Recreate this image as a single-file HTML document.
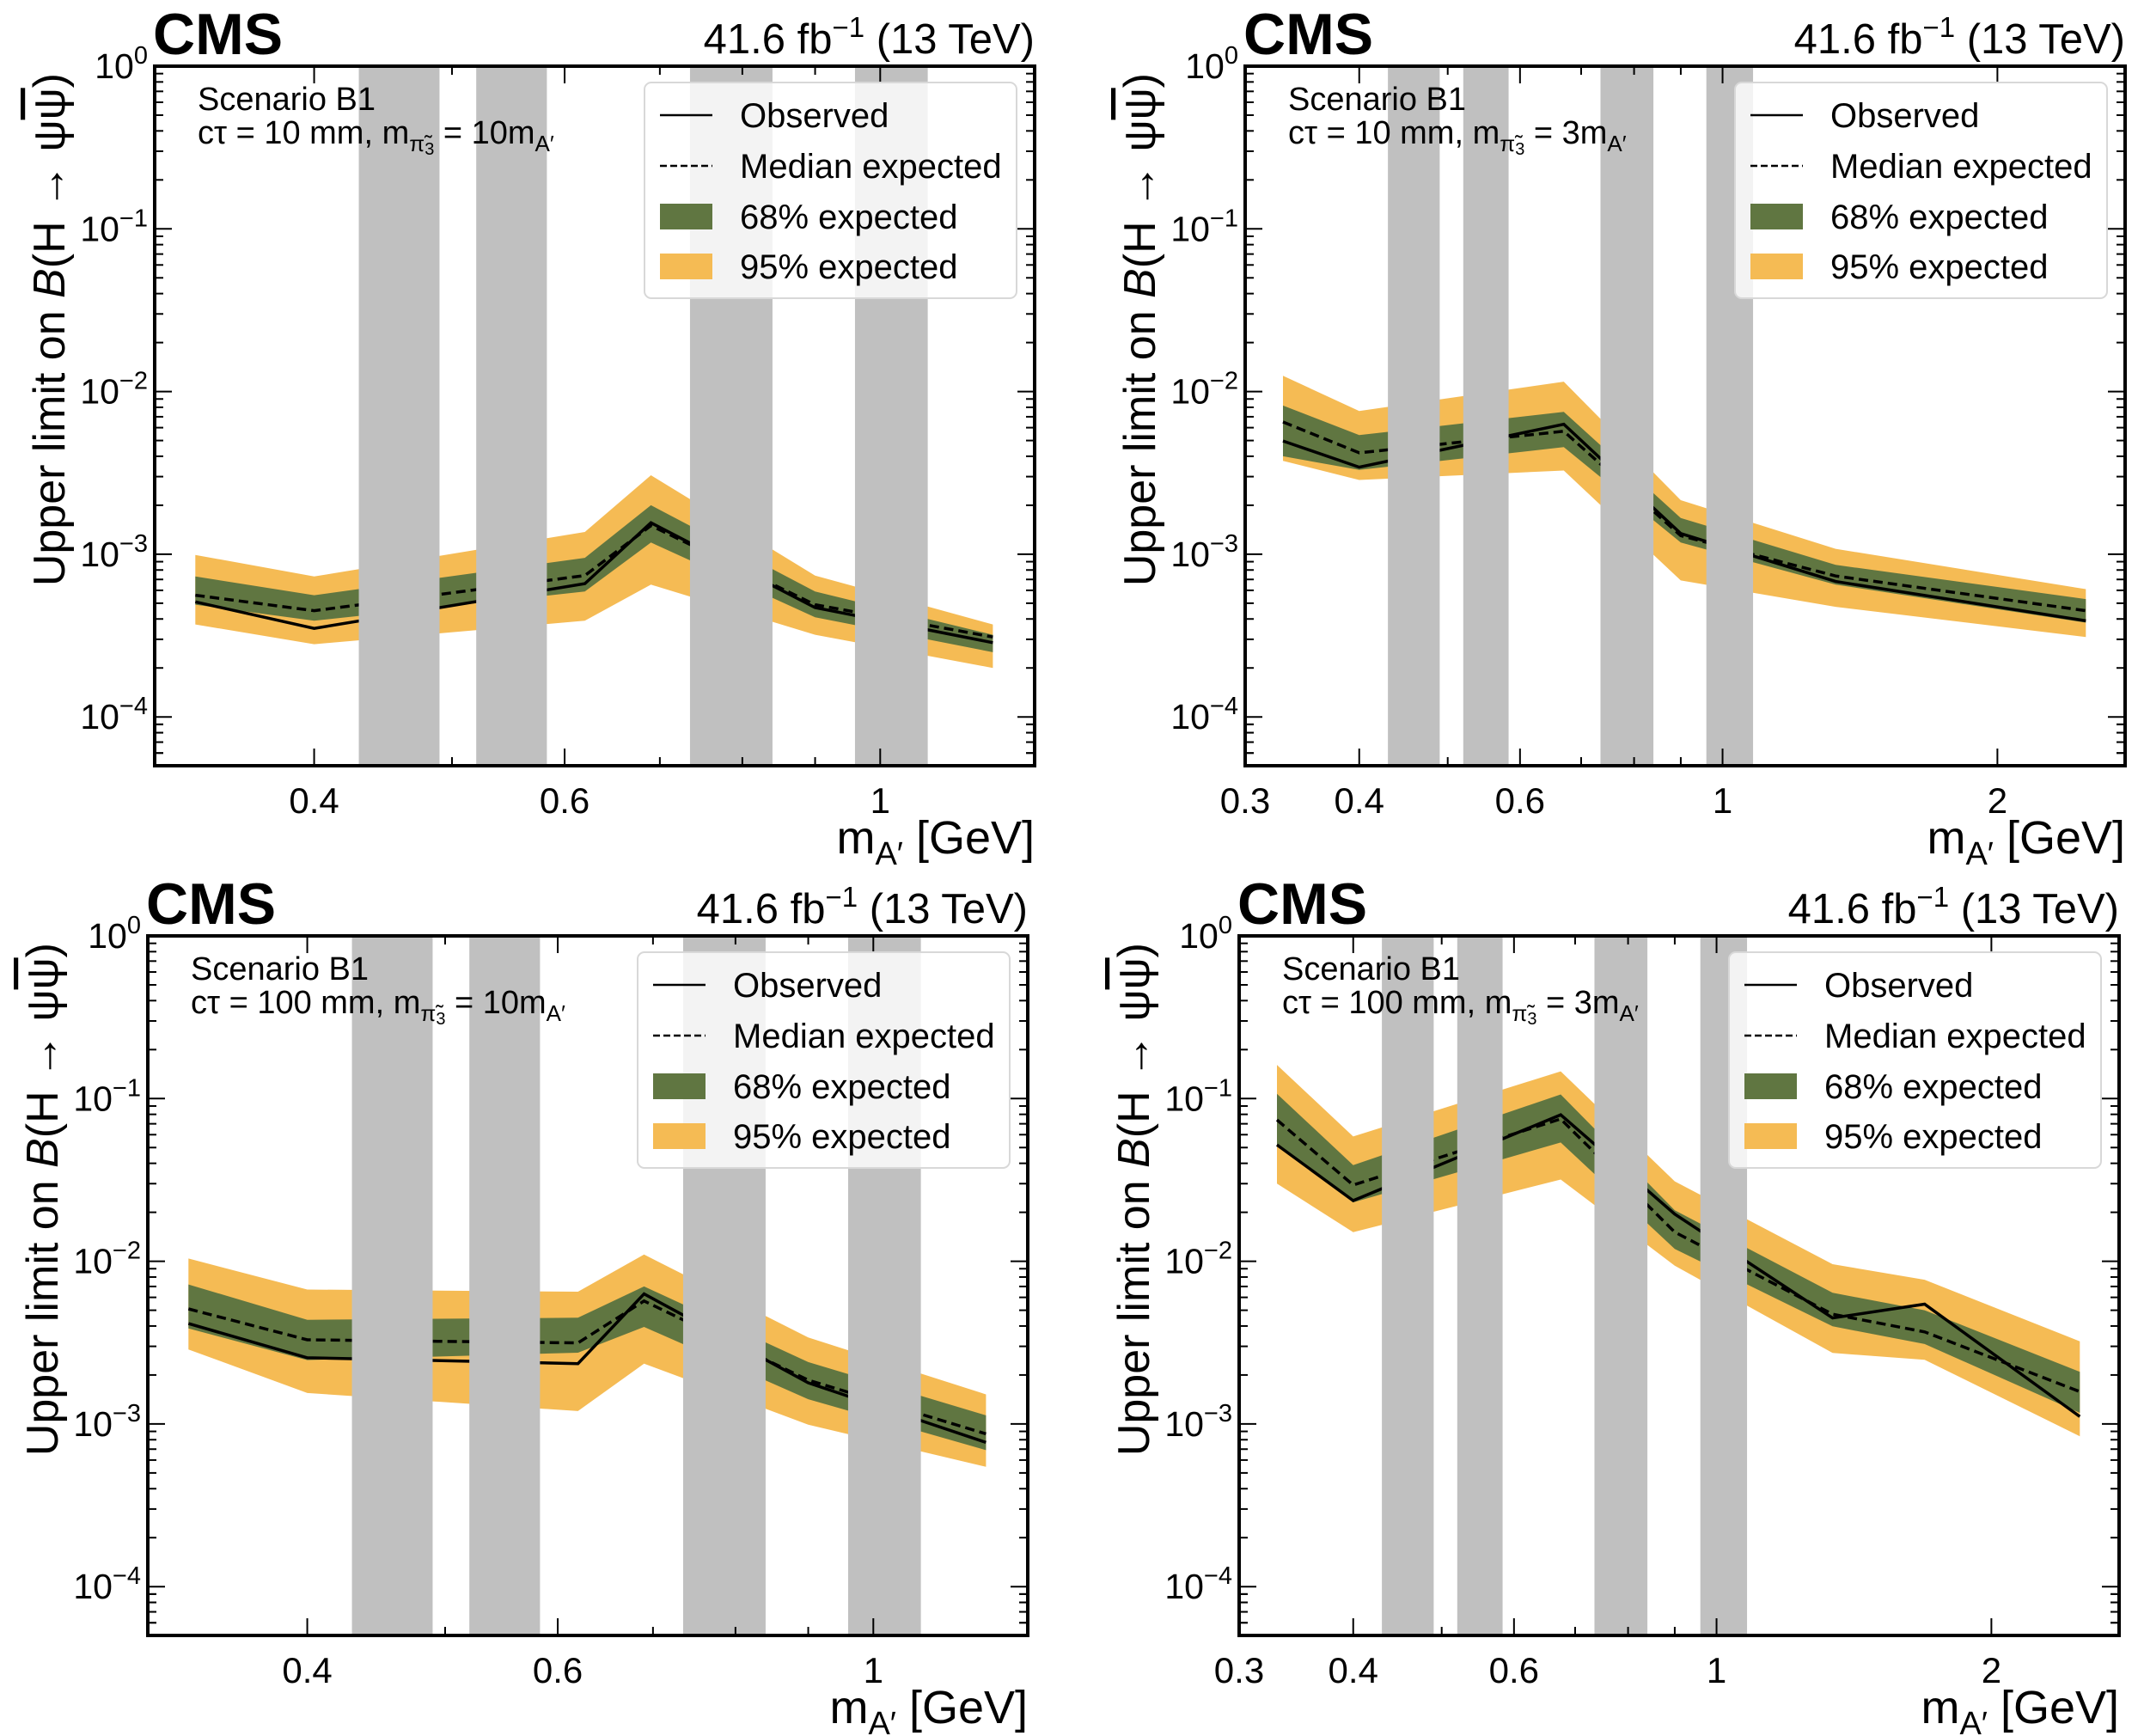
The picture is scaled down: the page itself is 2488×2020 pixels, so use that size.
<!DOCTYPE html>
<html><head><meta charset="utf-8"><style>
html,body{margin:0;padding:0;background:#fff}
svg{display:block;font-family:"Liberation Sans","DejaVu Sans",sans-serif}
</style></head><body>
<svg id="fig" xmlns="http://www.w3.org/2000/svg" width="2488" height="2020" viewBox="0 0 2488 2020"></svg>
<script>
// veto (gray) mass windows
const vetoLo = [0.43, 0.52, 0.735, 0.96];
const vetoHi = [0.49, 0.583, 0.84, 1.08];
// Panel TL: ctau 10 mm, 10mA
const tlMass = [0.33, 0.40, 0.62, 0.69, 0.90, 1.20];
const tlObs  = [5.1e-4, 3.5e-4, 6.6e-4, 1.56e-3, 4.7e-4, 2.86e-4];
const tlExp  = [5.6e-4, 4.5e-4, 7.4e-4, 1.5e-3, 4.9e-4, 3.1e-4];
const tlLo68 = [4.9e-4, 3.9e-4, 5.9e-4, 1.18e-3, 4.1e-4, 2.5e-4];
const tlHi68 = [7.3e-4, 5.6e-4, 9.5e-4, 2.0e-3, 5.9e-4, 3.2e-4];
const tlLo95 = [3.7e-4, 2.8e-4, 3.9e-4, 6.5e-4, 3.2e-4, 2.0e-4];
const tlHi95 = [9.9e-4, 7.3e-4, 1.37e-3, 3.06e-3, 7.4e-4, 3.7e-4];
// Panel TR: ctau 10 mm, 3mA
const trMass = [0.33, 0.40, 0.67, 0.90, 1.33, 2.5];
const trObs  = [4.97e-3, 3.43e-3, 6.3e-3, 1.34e-3, 6.8e-4, 3.9e-4];
const trExp  = [6.5e-3, 4.2e-3, 5.7e-3, 1.3e-3, 7.35e-4, 4.5e-4];
const trLo68 = [4.0e-3, 3.3e-3, 4.55e-3, 1.18e-3, 6.5e-4, 3.8e-4];
const trHi68 = [8.2e-3, 5.4e-3, 7.5e-3, 1.67e-3, 8.6e-4, 5.3e-4];
const trLo95 = [3.75e-3, 2.86e-3, 3.27e-3, 6.9e-4, 4.75e-4, 3.1e-4];
const trHi95 = [1.25e-2, 7.6e-3, 1.15e-2, 2.15e-3, 1.08e-3, 6.1e-4];
// Panel BL: ctau 100 mm, 10mA
const blMass = [0.33, 0.40, 0.62, 0.69, 0.90, 1.20];
const blObs  = [4.14e-3, 2.55e-3, 2.35e-3, 6.3e-3, 1.79e-3, 7.7e-4];
const blExp  = [5.1e-3, 3.29e-3, 3.15e-3, 5.7e-3, 1.86e-3, 8.7e-4];
const blLo68 = [3.87e-3, 2.47e-3, 2.74e-3, 3.95e-3, 1.42e-3, 6.9e-4];
const blHi68 = [7.2e-3, 4.37e-3, 4.5e-3, 7.0e-3, 2.4e-3, 1.13e-3];
const blLo95 = [2.87e-3, 1.55e-3, 1.2e-3, 2.35e-3, 9.9e-4, 5.45e-4];
const blHi95 = [1.04e-2, 6.7e-3, 6.5e-3, 1.1e-2, 3.4e-3, 1.52e-3];
// Panel BR: ctau 100 mm, 3mA
const brMass = [0.33, 0.40, 0.675, 0.90, 1.34, 1.69, 2.5];
const brObs  = [5.2e-2, 2.36e-2, 7.95e-2, 1.95e-2, 4.48e-3, 5.45e-3, 1.11e-3];
const brExp  = [7.4e-2, 2.94e-2, 7.5e-2, 1.51e-2, 4.73e-3, 3.68e-3, 1.58e-3];
const brLo68 = [5.1e-2, 2.3e-2, 5.37e-2, 1.19e-2, 3.98e-3, 3.1e-3, 1.17e-3];
const brHi68 = [1.07e-1, 3.9e-2, 1.06e-1, 2.06e-2, 6.4e-3, 5.0e-3, 2.09e-3];
const brLo95 = [3.0e-2, 1.51e-2, 3.18e-2, 9.4e-3, 2.73e-3, 2.48e-3, 8.4e-4];
const brHi95 = [1.61e-1, 5.85e-2, 1.47e-1, 3.1e-2, 9.6e-3, 7.7e-3, 3.22e-3];
// axis tick values
const yMajorExp = [0, -1, -2, -3, -4];
const xMajorNarrow = [0.4, 0.6, 1];
const xMajorNarrowLbl = ["0.4", "0.6", "1"];
const xMinorNarrow = [0.5, 0.7, 0.8, 0.9];
const xMajorWide = [0.3, 0.4, 0.6, 1, 2];
const xMajorWideLbl = ["0.3", "0.4", "0.6", "1", "2"];
const xMinorWide = [0.5, 0.7, 0.8, 0.9];
const legendLabels = ["Observed", "Median expected", "68% expected", "95% expected"];

const NS = "http://www.w3.org/2000/svg";
const svg = document.getElementById('fig');
function mk(tag, attrs, parent) {
  const e = document.createElementNS(NS, tag);
  for (const k in attrs) e.setAttribute(k, attrs[k]);
  (parent || svg).appendChild(e);
  return e;
}
const W = 1024, H = 814;
const YMIN = -4.30, YMAX = 0;

function drawPanel(p) {
  const g = mk('g', {});
  
  
  const L = p.L, T = p.T;
  const lx0 = Math.log10(p.xmin), lx1 = Math.log10(p.xmax);
  const X = v => L + (Math.log10(v) - lx0) / (lx1 - lx0) * W;
  const Y = v => T + (YMAX - Math.log10(v)) / (YMAX - YMIN) * H;
  const cid = 'clip-' + p.name;
  const cp = mk('clipPath', {id: cid}, g);
  mk('rect', {x: L, y: T, width: W, height: H}, cp);
  const plot = mk('g', {'clip-path': 'url(#' + cid + ')'}, g);
  function band(lo, hi, color, nm) {
    let pts = [];
    for (let i = 0; i < p.mass.length; i++) pts.push(X(p.mass[i]).toFixed(1) + ',' + Y(hi[i]).toFixed(1));
    for (let i = p.mass.length - 1; i >= 0; i--) pts.push(X(p.mass[i]).toFixed(1) + ',' + Y(lo[i]).toFixed(1));
    const e = mk('polygon', {points: pts.join(' '), fill: color}, plot);
    
    
  }
  band(p.lo95, p.hi95, '#F5BB54', 'band-95');
  band(p.lo68, p.hi68, '#607641', 'band-68');
  function line(vals, dash, nm) {
    const pts = p.mass.map((m, i) => X(m).toFixed(1) + ',' + Y(vals[i]).toFixed(1)).join(' ');
    const e = mk('polyline', {points: pts, fill: 'none', stroke: '#000', 'stroke-width': 3.5, 'stroke-dasharray': dash}, plot);
    
    
  }
  line(p.exp, '11,6', 'expected-line');
  line(p.obs, 'none', 'observed-line');
  for (let i = 0; i < vetoLo.length; i++) {
    const e = mk('rect', {x: X(vetoLo[i]), y: T, width: X(vetoHi[i]) - X(vetoLo[i]), height: H, fill: '#C0C0C0'}, plot);
    
    
  }
  // ticks
  const tk = mk('g', {stroke: '#000', 'stroke-width': 2}, g);
  for (const ex of yMajorExp) {
    for (let d = 1; d <= 9; d++) {
      const v = d * Math.pow(10, ex - 1);
      const ly = Math.log10(v);
      if (ly < YMIN || ly > YMAX) continue;
      const y = Y(v), len = d === 1 ? 20 : 10;
      mk('line', {x1: L, x2: L + len, y1: y, y2: y}, tk);
      mk('line', {x1: L + W, x2: L + W - len, y1: y, y2: y}, tk);
    }
  }
  for (let d = 1; d <= 9; d++) {
    const v = d * 1e-5; if (Math.log10(v) < YMIN) continue;
    const y = Y(v);
    mk('line', {x1: L, x2: L + 10, y1: y, y2: y}, tk);
    mk('line', {x1: L + W, x2: L + W - 10, y1: y, y2: y}, tk);
  }
  p.xmaj.forEach((v, i) => {
    const x = X(v);
    mk('line', {x1: x, x2: x, y1: T + H, y2: T + H - 20}, tk);
    mk('line', {x1: x, x2: x, y1: T, y2: T + 20}, tk);
    const t = mk('text', {x: x, y: T + H + 55, 'font-size': 42, 'text-anchor': 'middle'}, g);
    t.textContent = p.xlbl[i];
    
    
  });
  p.xmin_.forEach(v => {
    const x = X(v);
    mk('line', {x1: x, x2: x, y1: T + H, y2: T + H - 10}, tk);
    mk('line', {x1: x, x2: x, y1: T, y2: T + 10}, tk);
  });
  yMajorExp.forEach(ex => {
    const y = Y(Math.pow(10, ex));
    const t = mk('text', {x: L - 8, y: y + 14, 'font-size': 41, 'text-anchor': 'end'}, g);
    
    
    const a = mk('tspan', {}, t); a.textContent = '10';
    const b = mk('tspan', {dy: -17, 'font-size': 29}, t); b.textContent = ex === 0 ? '0' : '\u2212' + (-ex);
  });
  // frame
  const fr = mk('rect', {x: L, y: T, width: W, height: H, fill: 'none', stroke: '#000', 'stroke-width': 4}, g);
  
  
  // legend
  const lg = mk('g', {}, g);
  
  
  mk('rect', {x: L + 570, y: T + 19, width: 433, height: 251, rx: 8, fill: '#fff', 'fill-opacity': 0.8, stroke: '#d8d8d8', 'stroke-width': 2}, lg);
  const rows = [T + 57, T + 116, T + 175, T + 233];
  mk('line', {x1: L + 588, x2: L + 649, y1: rows[0], y2: rows[0], stroke: '#000', 'stroke-width': 2.5}, lg);
  mk('line', {x1: L + 588, x2: L + 649, y1: rows[1], y2: rows[1], stroke: '#000', 'stroke-width': 2.5, 'stroke-dasharray': '8,4'}, lg);
  mk('rect', {x: L + 588, y: rows[2] - 15, width: 61, height: 30, fill: '#607641'}, lg);
  mk('rect', {x: L + 588, y: rows[3] - 15, width: 61, height: 30, fill: '#F5BB54'}, lg);
  legendLabels.forEach((s, i) => {
    const t = mk('text', {x: L + 681, y: rows[i] + 14, 'font-size': 40}, lg);
    t.textContent = s;
    
    
  });
  // texts
  const cms = mk('text', {x: L - 2, y: T - 14, 'font-size': 68, 'font-weight': 'bold'}, g);
  cms.textContent = 'CMS';
  
  
  const lumi = mk('text', {x: L + W, y: T - 15, 'font-size': 49, 'text-anchor': 'end'}, g);
  
  
  mk('tspan', {}, lumi).textContent = '41.6 fb';
  mk('tspan', {dy: -19, 'font-size': 33}, lumi).textContent = '\u22121';
  mk('tspan', {dy: 19}, lumi).textContent = ' (13 TeV)';
  const sc = mk('text', {x: L + 50, y: T + 51, 'font-size': 38}, g);
  sc.textContent = 'Scenario B1';
  
  
  const ct = mk('text', {x: L + 50, y: T + 90, 'font-size': 38}, g);
  
  
  mk('tspan', {}, ct).textContent = 'c\u03c4 = ' + p.ctau + ' mm, m';
  mk('tspan', {dy: 9, 'font-size': 26}, ct).textContent = '\u03c0\u0303';
  mk('tspan', {dy: 4, 'font-size': 20}, ct).textContent = '3';
  mk('tspan', {dy: -13}, ct).textContent = ' = ' + p.ratio + 'm';
  mk('tspan', {dy: 9, 'font-size': 26}, ct).textContent = 'A\u2032';
  // axis titles
  const xl = mk('text', {x: L + W, y: T + H + 102, 'font-size': 54, 'text-anchor': 'end'}, g);
  
  
  mk('tspan', {}, xl).textContent = 'm';
  mk('tspan', {dy: 13, 'font-size': 38}, xl).textContent = 'A\u2032';
  mk('tspan', {dy: -13}, xl).textContent = ' [GeV]';
  const yl = mk('text', {x: 0, y: 0, 'font-size': 52, 'text-anchor': 'end', transform: 'translate(' + (L - 105) + ',' + (T + 8) + ') rotate(-90)'}, g);
  
  
  mk('tspan', {}, yl).textContent = 'Upper limit on ';
  mk('tspan', {'font-style': 'italic'}, yl).textContent = 'B';
  mk('tspan', {}, yl).textContent = '(H \u2192 \u03c8';
  mk('tspan', {'text-decoration': 'overline'}, yl).textContent = '\u03c8';
  mk('tspan', {}, yl).textContent = ')';
}

drawPanel({name: 'panel-ctau10-ratio10', L: 180, T: 77, xmin: 0.309, xmax: 1.284, xmaj: xMajorNarrow, xlbl: xMajorNarrowLbl, xmin_: xMinorNarrow,
  mass: tlMass, obs: tlObs, exp: tlExp, lo68: tlLo68, hi68: tlHi68, lo95: tlLo95, hi95: tlHi95, ctau: '10', ratio: '10'});
drawPanel({name: 'panel-ctau10-ratio3', L: 1449, T: 77, xmin: 0.3, xmax: 2.76, xmaj: xMajorWide, xlbl: xMajorWideLbl, xmin_: xMinorWide,
  mass: trMass, obs: trObs, exp: trExp, lo68: trLo68, hi68: trHi68, lo95: trLo95, hi95: trHi95, ctau: '10', ratio: '3'});
drawPanel({name: 'panel-ctau100-ratio10', L: 172, T: 1089, xmin: 0.309, xmax: 1.284, xmaj: xMajorNarrow, xlbl: xMajorNarrowLbl, xmin_: xMinorNarrow,
  mass: blMass, obs: blObs, exp: blExp, lo68: blLo68, hi68: blHi68, lo95: blLo95, hi95: blHi95, ctau: '100', ratio: '10'});
drawPanel({name: 'panel-ctau100-ratio3', L: 1442, T: 1089, xmin: 0.3, xmax: 2.76, xmaj: xMajorWide, xlbl: xMajorWideLbl, xmin_: xMinorWide,
  mass: brMass, obs: brObs, exp: brExp, lo68: brLo68, hi68: brHi68, lo95: brLo95, hi95: brHi95, ctau: '100', ratio: '3'});
</script>
</body></html>
